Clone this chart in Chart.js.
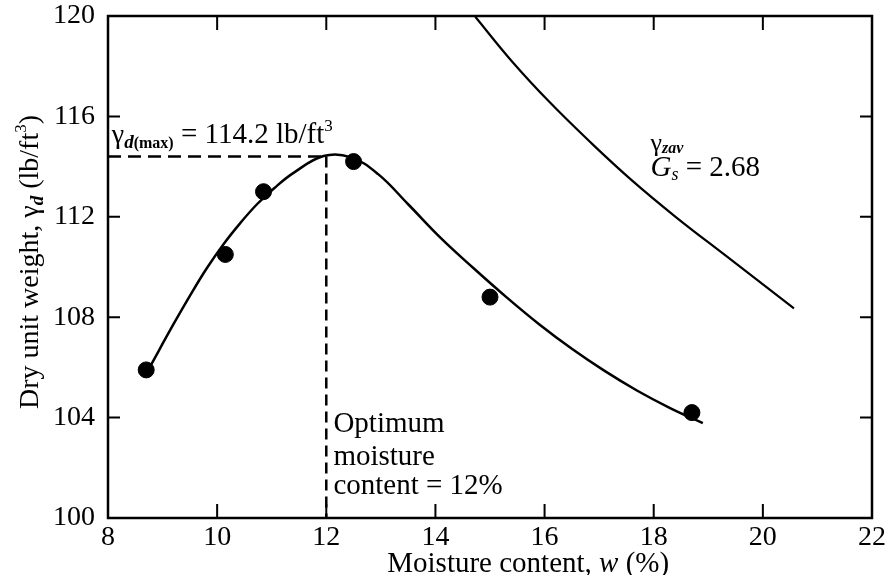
<!DOCTYPE html>
<html>
<head>
<meta charset="utf-8">
<script src="https://cdn.jsdelivr.net/npm/chart.js@4.4.1/dist/chart.umd.min.js"></script>
<style>
  html, body { margin: 0; padding: 0; background: #fff; }
  #wrap { width: 890px; height: 575px; }
</style>
</head>
<body>
<div id="wrap"><canvas id="chart" width="890" height="575"></canvas></div>
<script>
// --- DATA --- //
// compaction test points
const moisture = [8.7, 10.15, 10.85, 12.5, 15.0, 18.7];
const dryUnitWeight = [105.9, 110.5, 113.0, 114.2, 108.8, 104.2];

// compaction curve
const curveW = [8.77, 9.2, 9.5, 9.81, 10.12, 10.42, 10.73, 11.05, 11.4, 11.95, 12.44, 12.95, 13.5, 14.1, 14.7, 15.3, 15.9, 16.5, 17.1, 17.7, 18.3, 18.9];
const curveGamma = [106.03, 107.72, 108.85, 109.95, 110.92, 111.74, 112.5, 113.15, 113.75, 114.42, 114.38, 113.7, 112.5, 111.15, 109.95, 108.8, 107.72, 106.74, 105.86, 105.07, 104.38, 103.78];

// zero-air-void curve
const zavW = [14.73, 15.4, 16.1, 16.85, 17.6, 18.4, 19.35, 20.57];
const zavGamma = [119.97, 118.2, 116.55, 114.95, 113.45, 112.0, 110.4, 108.35];

// optimum
const optimumW = 12;
const maxDryWeight = 114.4;

// ticks
const xTicks = [8, 10, 12, 14, 16, 18, 20, 22];
const yTicks = [100, 104, 108, 112, 116, 120];

const SERIF = "'Liberation Serif', 'DejaVu Serif', serif";
const f = (size, style) => (style ? style + " " : "") + size + "px " + SERIF;

// teks dengan subscript / superscript
function drawRuns(ctx, x, y, runs, align) {
  let total = 0;
  runs.forEach(r => { ctx.font = r.font; r.w = ctx.measureText(r.t).width; total += r.w; });
  let cx = align === "center" ? x - total / 2 : x;
  runs.forEach(r => {
    ctx.font = r.font;
    ctx.fillText(r.t, cx, y + (r.dy || 0));
    cx += r.w;
  });
}

const decorPlugin = {
  id: "decor",
  afterDatasetsDraw(chart) {
    const { ctx, chartArea: a, scales: { x, y } } = chart;
    ctx.save();
    ctx.strokeStyle = "#000";
    ctx.fillStyle = "#000";
    ctx.lineWidth = 2.5;

    // frame
    ctx.strokeRect(a.left, a.top, a.right - a.left, a.bottom - a.top);

    // inward ticks
    ctx.lineWidth = 2;
    ctx.beginPath();
    xTicks.slice(1, -1).forEach(v => {
      const px = x.getPixelForValue(v);
      ctx.moveTo(px, a.bottom); ctx.lineTo(px, a.bottom - 14);
      ctx.moveTo(px, a.top); ctx.lineTo(px, a.top + 14);
    });
    yTicks.slice(1, -1).forEach(v => {
      const py = y.getPixelForValue(v);
      ctx.moveTo(a.left, py); ctx.lineTo(a.left + 12, py);
      ctx.moveTo(a.right, py); ctx.lineTo(a.right - 12, py);
    });
    ctx.stroke();

    ctx.textBaseline = "alphabetic";
    ctx.textAlign = "left";

    // γd(max) label
    drawRuns(ctx, x.getPixelForValue(8.07), y.getPixelForValue(114.94), [
      { t: "γ", font: f(28) },
      { t: "d", font: f(19, "italic bold"), dy: 5 },
      { t: "(max)", font: f(16, "bold"), dy: 5 },
      { t: " = 114.2 lb/ft", font: f(29) },
      { t: "3", font: f(17), dy: -12 }
    ]);

    // optimum moisture label
    const ox = x.getPixelForValue(12.13);
    ctx.font = f(29);
    ctx.fillText("Optimum", ox, y.getPixelForValue(103.43));
    ctx.fillText("moisture", ox, y.getPixelForValue(102.11));
    ctx.fillText("content = 12%", ox, y.getPixelForValue(100.96));

    // zav label
    const zx = x.getPixelForValue(17.94);
    drawRuns(ctx, zx, y.getPixelForValue(114.62), [
      { t: "γ", font: f(26) },
      { t: "zav", font: f(16, "italic bold"), dy: 2 }
    ]);
    drawRuns(ctx, zx, y.getPixelForValue(113.63), [
      { t: "G", font: f(29, "italic") },
      { t: "s", font: f(18, "italic"), dy: 4 },
      { t: " = 2.68", font: f(29) }
    ]);

    // axis titles
    drawRuns(ctx, x.getPixelForValue(15.7), 572, [
      { t: "Moisture content, ", font: f(29) },
      { t: "w", font: f(29, "italic") },
      { t: " (%)", font: f(29) }
    ], "center");

    ctx.translate(38, 262);
    ctx.rotate(-Math.PI / 2);
    drawRuns(ctx, 0, 0, [
      { t: "Dry unit weight, γ", font: f(28) },
      { t: "d", font: f(19, "italic bold"), dy: 5 },
      { t: " (lb/ft", font: f(28) },
      { t: "3", font: f(17), dy: -12 },
      { t: ")", font: f(28) }
    ], "center");
    ctx.restore();
  }
};

const toXY = (xs, ys) => xs.map((v, i) => ({ x: v, y: ys[i] }));

new Chart(document.getElementById("chart"), {
  type: "scatter",
  data: {
    datasets: [
      {
        label: "γzav",
        data: toXY(zavW, zavGamma),
        showLine: true,
        borderColor: "#000",
        borderWidth: 2.2,
        pointRadius: 0,
        tension: 0.4
      },
      {
        label: "Compaction curve",
        data: toXY(curveW, curveGamma),
        showLine: true,
        borderColor: "#000",
        borderWidth: 2.5,
        pointRadius: 0,
        tension: 0.4
      },
      {
        label: "max",
        data: [{ x: xTicks[0], y: maxDryWeight }, { x: optimumW, y: maxDryWeight }],
        showLine: true,
        borderColor: "#000",
        borderWidth: 2.5,
        borderDash: [13, 7],
        pointRadius: 0
      },
      {
        label: "optimum",
        data: [{ x: optimumW, y: maxDryWeight }, { x: optimumW, y: yTicks[0] }],
        showLine: true,
        borderColor: "#000",
        borderWidth: 2.5,
        borderDash: [11, 6],
        pointRadius: 0
      },
      {
        label: "Test points",
        data: toXY(moisture, dryUnitWeight),
        showLine: false,
        backgroundColor: "#000",
        borderColor: "#000",
        pointRadius: 8
      }
    ]
  },
  options: {
    responsive: false,
    animation: false,
    devicePixelRatio: 1,
    layout: { padding: { left: 0, top: 16, right: 18, bottom: 0 } },
    plugins: { legend: { display: false }, tooltip: { enabled: false } },
    scales: {
      x: {
        type: "linear",
        min: 8,
        max: 22,
        afterBuildTicks: s => { s.ticks = xTicks.map(v => ({ value: v })); },
        afterFit: s => { s.height = 57; s.paddingLeft = 0; s.paddingRight = 0; },
        grid: { display: false },
        border: { display: false },
        ticks: { color: "#000", font: { family: SERIF, size: 28 }, padding: -5, maxRotation: 0 }
      },
      y: {
        type: "linear",
        min: 100,
        max: 120,
        afterBuildTicks: s => { s.ticks = yTicks.map(v => ({ value: v })); },
        afterFit: s => { s.width = 108; s.paddingTop = 0; s.paddingBottom = 0; },
        grid: { display: false },
        border: { display: false },
        ticks: { color: "#000", font: { family: SERIF, size: 28 }, padding: 5 }
      }
    }
  },
  plugins: [decorPlugin]
});
</script>
</body>
</html>
